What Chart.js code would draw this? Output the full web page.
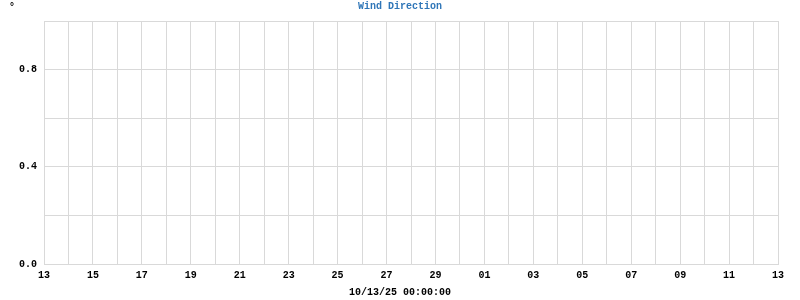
<!DOCTYPE html>
<html><head><meta charset="utf-8">
<script src="https://cdn.jsdelivr.net/npm/chart.js@4/dist/chart.umd.min.js"></script>
<style>html,body{margin:0;padding:0;background:#fff}#wrap{width:800px;height:300px}</style>
</head><body><div id="wrap"><canvas id="c" width="800" height="300"></canvas></div>
<script>
const xTickLabels = ["13","","15","","17","","19","","21","","23","","25","","27","","29","","01","","03","","05","","07","","09","","11","","13"];
const windValues = [];
const yTicks = [0.0, 0.2, 0.4, 0.6, 0.8, 1.0];
const chartTitle = "Wind Direction";
const xTitle = "10/13/25 00:00:00";
const yUnit = "°";
const FONT = "'Liberation Mono', 'DejaVu Sans Mono', monospace";

const textPlugin = {
  id: 'texts',
  afterDraw(chart) {
    const ctx = chart.ctx;
    ctx.save();
    ctx.font = "bold 10px " + FONT;
    ctx.textBaseline = 'middle';
    ctx.textAlign = 'center';
    ctx.fillStyle = '#2f76b8';
    ctx.fillText(chartTitle, 400, 6);
    ctx.fillStyle = '#000';
    ctx.fillText(xTitle, 400, 292);
    ctx.textAlign = 'left';
    ctx.fillText(yUnit, 9, 7);
    ctx.restore();
  }
};

new Chart(document.getElementById('c'), {
  type: 'line',
  data: { datasets: [{ label: 'Wind Direction', data: windValues, borderColor: '#2f76b8', pointRadius: 0 }] },
  options: {
    responsive: false, animation: false,
    layout: { padding: { left: 0, right: 22, top: 21, bottom: 0 } },
    plugins: { legend: { display: false }, title: { display: false }, tooltip: { enabled: false } },
    scales: {
      x: {
        type: 'linear', min: 0, max: xTickLabels.length - 1,
        afterFit(s) { s.height = 36; },
        afterBuildTicks(s) { s.ticks = xTickLabels.map((_, i) => ({ value: i })); },
        grid: { color: '#d9d9d9', drawTicks: false },
        border: { color: '#d9d9d9' },
        ticks: { autoSkip: false, maxRotation: 0, padding: 5, color: '#000',
          font: { family: FONT, size: 10, weight: 'bold' },
          callback: (v) => xTickLabels[v] }
      },
      y: {
        min: 0, max: 1,
        afterFit(s) { s.width = 44; },
        afterBuildTicks(s) { s.ticks = yTicks.map(v => ({ value: v })); },
        grid: { color: '#d9d9d9', drawTicks: false },
        border: { color: '#d9d9d9' },
        ticks: { padding: 7, color: '#000', font: { family: FONT, size: 10, weight: 'bold' },
          callback: (v, i) => (i % 2 === 0 ? v.toFixed(1) : '') }
      }
    }
  },
  plugins: [textPlugin]
});
</script></body></html>
